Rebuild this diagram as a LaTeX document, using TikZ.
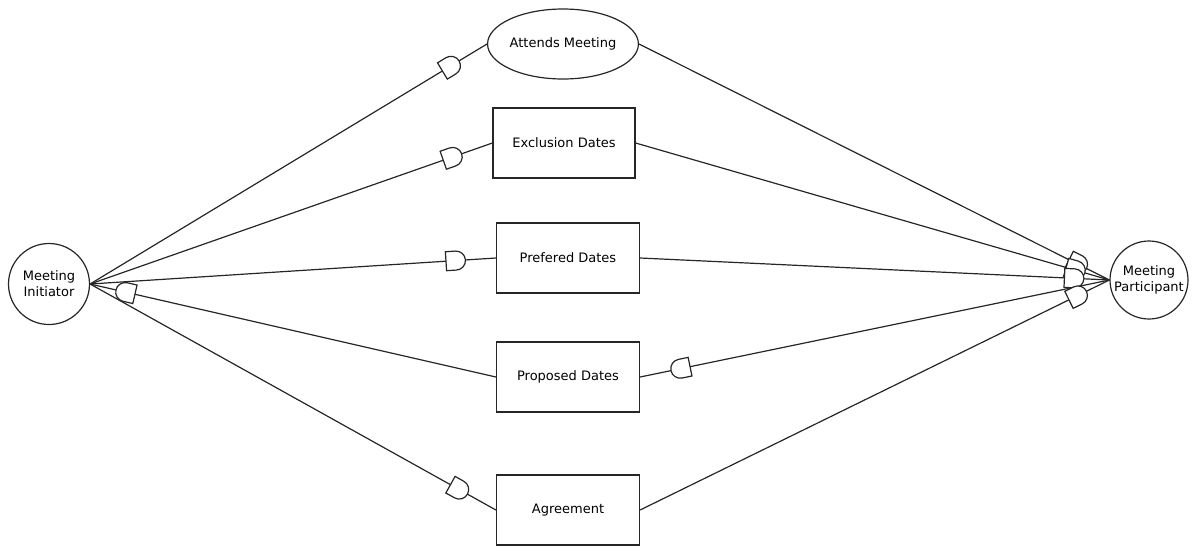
\documentclass[tikz,border=0pt]{standalone}
\usepackage{fontspec}
\setmainfont{DejaVu Sans}
\usetikzlibrary{shapes.geometric,decorations.markings}

\newcommand{\dfwd}{\draw[fill=white] (-10pt,-9.5pt) -- (0pt,-9.5pt) arc[start angle=-90, end angle=90, radius=9.5pt] -- (-10pt,9.5pt) -- cycle;}
\newcommand{\dbwd}{\draw[fill=white] (10pt,-9.5pt) -- (0pt,-9.5pt) arc[start angle=-90, end angle=-270, radius=9.5pt] -- (10pt,9.5pt) -- cycle;}

\tikzset{
  actor/.style={circle, draw, minimum size=80pt, inner sep=0pt, align=center},
  goal/.style={ellipse, draw, minimum width=142pt, minimum height=70pt, inner sep=0pt},
  resource/.style={rectangle, draw, minimum width=143pt, minimum height=70pt, inner sep=0pt},
  dto/.style={postaction={decorate, decoration={markings, mark=at position #1 with {\dfwd}}}},
  dback/.style={postaction={decorate, decoration={markings, mark=at position #1 with {\dbwd}}}},
}

\begin{document}
\begin{tikzpicture}[x=1pt, y=-1pt, line width=1.2pt, draw=black!85,
  every node/.style={font=\fontsize{13}{16}\selectfont}]
\useasboundingbox (0,0) rectangle (1194,547);
\node[actor, minimum size=81pt] (init) at (49,284) {Meeting\\Initiator};
\node[actor, minimum size=78pt] (part) at (1149,280) {Meeting\\Participant};
\node[goal] (attends) at (563,44) {Attends Meeting};
\node[resource, minimum width=142pt] (excl) at (564,143) {Exclusion Dates};
\node[resource] (pref) at (568,258) {Prefered Dates};
\node[resource] (prop) at (568,377) {Proposed Dates};
\node[resource] (agree) at (568,510) {Agreement};
% initiator side
\draw[dto=-42pt] (init.east) -- (attends.west);
\draw[dto=-42pt] (init.east) -- (excl.west);
\draw[dto=-40pt] (init.east) -- (pref.west);
\draw[dback=36pt] (init.east) -- (prop.west);
\draw[dto=-42pt] (init.east) -- (agree.west);
% participant side
\draw[dto=-35pt] (attends.east) -- (part.west);
\draw[dto=-35pt] (excl.east) -- (part.west);
\draw[dto=-35pt] (pref.east) -- (part.west);
\draw[dback=41pt] (prop.east) -- (part.west);
\draw[dto=-35pt] (agree.east) -- (part.west);
\end{tikzpicture}
\end{document}
